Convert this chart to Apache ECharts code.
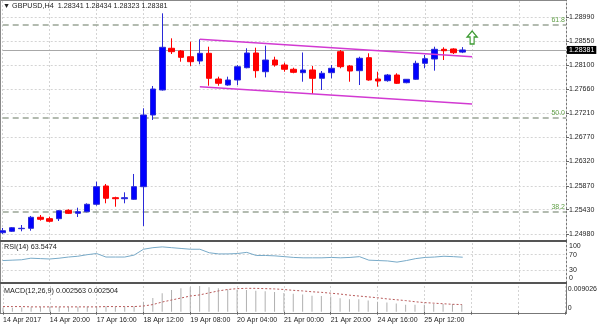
<!DOCTYPE html>
<html><head><meta charset="utf-8">
<script src="https://cdn.jsdelivr.net/npm/echarts@6/dist/echarts.min.js"></script>
<style>html,body{margin:0;padding:0;background:#fff}#c{width:600px;height:327px}</style>
</head><body><div id="c"></div>
<script>
// ---- data ----
const symbolTitle = '▼ GBPUSD,H4  1.28341 1.28434 1.28323 1.28381';
const rsiTitle = 'RSI(14) 63.5474';
const macdTitle = 'MACD(12,26,9) 0.002563 0.002504';
const timeLabels = ['14 Apr 2017','14 Apr 20:00','17 Apr 16:00','18 Apr 12:00','19 Apr 08:00','20 Apr 04:00','21 Apr 00:00','21 Apr 20:00','24 Apr 16:00','25 Apr 12:00'];
// open, close, low, high
const ohlc = [
[1.25004,1.25041,1.24980,1.25091],[1.25030,1.25096,1.25017,1.25109],[1.25078,1.25085,1.25030,1.25146],
[1.25085,1.25289,1.25041,1.25313],[1.25289,1.25252,1.25226,1.25331],[1.25263,1.25215,1.25196,1.25300],
[1.25263,1.25410,1.25220,1.25423],[1.25418,1.25362,1.25349,1.25436],[1.25362,1.25392,1.25294,1.25466],
[1.25392,1.25529,1.25381,1.25547],[1.25529,1.25854,1.25503,1.25946],[1.25867,1.25640,1.25547,1.25904],
[1.25651,1.25632,1.25484,1.25669],[1.25632,1.25651,1.25547,1.25750],[1.25621,1.25854,1.25608,1.26089],
[1.25854,1.27179,1.25128,1.27303],[1.27179,1.27659,1.27087,1.27715],[1.27641,1.28430,1.27630,1.29058],
[1.28412,1.28349,1.28306,1.28596],[1.28362,1.28245,1.28164,1.28380],[1.28256,1.28164,1.28085,1.28534],
[1.28177,1.28319,1.28116,1.28578],[1.28319,1.27857,1.27720,1.28441],[1.27844,1.27765,1.27720,1.27887],
[1.27733,1.27826,1.27720,1.27887],[1.27826,1.28072,1.27733,1.28103],[1.28053,1.28325,1.28042,1.28412],
[1.28325,1.27998,1.27868,1.28423],[1.27979,1.28195,1.27876,1.28460],[1.28195,1.28103,1.28072,1.28256],
[1.28103,1.28024,1.27979,1.28145],[1.28024,1.27968,1.27950,1.28053],[1.27961,1.28011,1.27794,1.28334],
[1.28011,1.27857,1.27567,1.28085],[1.27857,1.27950,1.27641,1.27992],[1.27961,1.28042,1.27857,1.28103],
[1.28349,1.28072,1.28042,1.28380],[1.28085,1.27992,1.27794,1.28103],[1.27998,1.28227,1.27733,1.28256],
[1.28238,1.27826,1.27813,1.28319],[1.27844,1.27807,1.27702,1.27979],[1.27813,1.27918,1.27794,1.27937],
[1.27918,1.27765,1.27752,1.27950],[1.27776,1.27839,1.27765,1.27844],[1.27839,1.28134,1.27826,1.28182],
[1.28134,1.28219,1.28042,1.28288],[1.28214,1.28393,1.27998,1.28441],[1.28393,1.28367,1.28195,1.28430],
[1.28399,1.28330,1.28306,1.28412],[1.28341,1.28381,1.28323,1.28434]
];
const rsi = [55,56,57,61,60,59,61,64,66,70,73,64,64,64,69,84,88,90,88,86,84,84,75,72,72,73,76,68,68,67,65,63,62,62,62,63,62,63,65,56,55,54,51,55,60,63,64,66,65,63.5474];
const macd = [0.0014,0.0014,0.0015,0.0016,0.0017,0.0017,0.0017,0.0017,0.0017,0.0018,0.0019,0.0019,0.0018,0.0018,0.0019,
0.0035,0.0048,0.0065,0.0076,0.0082,0.0086,0.009026,0.0086,0.0082,0.0079,0.0077,0.0076,0.0074,0.0072,0.0069,
0.0066,0.0063,0.0060,0.0056,0.0055,0.0053,0.0047,0.0044,0.0044,0.0039,0.0035,0.0032,0.0029,0.0024,0.0024,
0.0024,0.0027,0.0027,0.0027,0.002563];
const signal = [0.0018,0.0018,0.0018,0.0017,0.0017,0.0017,0.0017,0.0017,0.0017,0.0017,0.0017,0.0018,0.0018,0.0018,0.0018,
0.0020,0.0025,0.0034,0.0041,0.0048,0.0055,0.0059,0.0066,0.0073,0.0078,0.0081,0.0082,0.0082,0.0081,0.0080,
0.0078,0.0075,0.0073,0.0070,0.0068,0.0065,0.0062,0.0058,0.0055,0.0052,0.0049,0.0045,0.0042,0.0039,0.0035,
0.0032,0.0030,0.0028,0.0026,0.002504];
const priceTicks = [1.24980,1.25430,1.25870,1.26320,1.26770,1.27210,1.27660,1.28100,1.28550,1.28990];
const rsiTicks = [0,30,70,100];
const rsiLevels = [30,70];
const macdTicks = [0,0.009026];
const fibLevels = [1.28843,1.27136,1.25399];
const fibNames = ['61.8','50.0','38.2'];
const lastPrice = 1.28381;
const channelUpper = [[21,1.28578],[50,1.28256]];
const channelLower = [[21,1.27702],[50,1.27382]];
const arrowPoint = [50,1.28611];
const slotCount = 61;
const labelEvery = 5;

// ---- build ----
const categories = [];
for (let i = 0; i < slotCount; i++) {
  const k = i / labelEvery;
  categories.push(i % labelEvery === 0 && k < timeLabels.length ? timeLabels[k] : '');
}
const FONT = 'Liberation Sans';
const txt = '#222';
const gridColor = '#d4d4d4';
const L = 2.7, R = 34;

function xAx(idx, showLabel) {
  return {
    type: 'category', gridIndex: idx, data: categories, boundaryGap: false,
    axisLine: {show: false},
    axisTick: {show: showLabel, interval: labelEvery - 1, length: 3, lineStyle: {color: '#666'}},
    axisLabel: {show: showLabel, interval: labelEvery - 1, align: 'left', margin: 5,
      fontSize: 7, fontFamily: FONT, color: txt},
    splitLine: {show: true, interval: labelEvery - 1, lineStyle: {color: gridColor, type: [2, 2], width: 1}}
  };
}

const levelLines = fibLevels.map((v, i) => ({
  yAxis: v,
  lineStyle: {color: '#9aa596', type: [6, 4], width: 1.5},
  label: {show: true, formatter: fibNames[i], position: 'insideEndTop', distance: [1, 1],
    color: '#5f9e45', fontSize: 7, fontFamily: FONT}
}));
levelLines.push({
  yAxis: lastPrice,
  lineStyle: {color: '#a8a8a8', type: 'solid', width: 1},
  label: {show: true, position: 'end', distance: 1, formatter: lastPrice.toFixed(5),
    backgroundColor: '#000', color: '#fff', padding: [1, 2, 0, 2], fontSize: 7, fontFamily: FONT}
});

const option = {
  animation: false,
  backgroundColor: '#fff',
  title: [
    {text: symbolTitle, left: 3, top: 3, padding: 0, textStyle: {fontSize: 7.2, fontWeight: 'normal', fontFamily: FONT, color: txt}},
    {text: rsiTitle, left: 4, top: 244, padding: 0, textStyle: {fontSize: 7.2, fontWeight: 'normal', fontFamily: FONT, color: txt}},
    {text: macdTitle, left: 4, top: 288, padding: 0, textStyle: {fontSize: 7.2, fontWeight: 'normal', fontFamily: FONT, color: txt}}
  ],
  grid: [
    {left: L, right: R, top: 1, height: 238},
    {left: L, right: R, top: 243, height: 39},
    {left: L, right: R, top: 286, height: 25.7}
  ],
  xAxis: [xAx(0, false), xAx(1, false), xAx(2, true)],
  yAxis: [
    {type: 'value', gridIndex: 0, position: 'right', min: 1.248874, max: 1.292857,
      axisLine: {show: false},
      axisTick: {show: true, length: 3, customValues: priceTicks, lineStyle: {color: '#666'}},
      axisLabel: {customValues: priceTicks, margin: 3, fontSize: 7, fontFamily: FONT, color: txt,
        formatter: v => v.toFixed(5)},
      splitLine: {show: true, lineStyle: {color: gridColor, type: [2, 2]}}},
    {type: 'value', gridIndex: 1, position: 'right', min: 0, max: 100,
      axisLine: {show: false},
      axisTick: {show: false, customValues: rsiLevels},
      axisLabel: {customValues: rsiTicks, margin: 3, fontSize: 7, fontFamily: FONT, color: txt,
        verticalAlignMaxLabel: 'top', verticalAlignMinLabel: 'bottom'},
      splitLine: {show: true, lineStyle: {color: gridColor, type: [2, 2]}}},
    {type: 'value', gridIndex: 2, position: 'right', min: 0, max: 0.009026,
      axisLine: {show: false},
      axisTick: {show: false, customValues: macdTicks},
      axisLabel: {customValues: macdTicks, margin: 3, fontSize: 7, fontFamily: FONT, color: txt,
        verticalAlignMaxLabel: 'top', verticalAlignMinLabel: 'bottom',
        formatter: v => v === 0 ? '0' : v.toFixed(6)},
      splitLine: {show: false}}
  ],
  series: [
    {type: 'line', xAxisIndex: 0, yAxisIndex: 0, data: [], z: 1,
      markLine: {silent: true, precision: 5, symbol: ['none', 'none'], z: 1, data: levelLines}},
    {type: 'candlestick', xAxisIndex: 0, yAxisIndex: 0, data: ohlc, barWidth: 6, clip: false, z: 3,
      itemStyle: {color: '#0000ff', color0: '#ff0000', borderColor: '#2a2ad8', borderColor0: '#ff0000', borderWidth: 1},
      markPoint: {silent: true, data: [{coord: arrowPoint, symbol: 'path://M5,0 L10,6 L7,6 L7,13 L3,13 L3,6 L0,6 Z',
        symbolSize: [10, 13], itemStyle: {color: '#fff', borderColor: '#3c9a32', borderWidth: 1.3}, label: {show: false}}]}
    },
    {type: 'line', xAxisIndex: 0, yAxisIndex: 0, data: channelUpper, showSymbol: false, z: 4,
      lineStyle: {color: '#d23ad2', width: 1.5}},
    {type: 'line', xAxisIndex: 0, yAxisIndex: 0, data: channelLower, showSymbol: false, z: 4,
      lineStyle: {color: '#d23ad2', width: 1.5}},
    {type: 'line', xAxisIndex: 1, yAxisIndex: 1, data: rsi, showSymbol: false,
      lineStyle: {color: '#78aac8', width: 1}},
    {type: 'bar', xAxisIndex: 2, yAxisIndex: 2, data: macd, barWidth: 1,
      itemStyle: {color: '#b0b0b0'}},
    {type: 'line', xAxisIndex: 2, yAxisIndex: 2, data: signal, showSymbol: false,
      lineStyle: {color: '#b85a5a', width: 1, type: [2, 2]}}
  ],
  graphic: [
    {type: 'line', shape: {x1: 0, y1: 0.5, x2: 566, y2: 0.5}, style: {stroke: '#888', lineWidth: 1}},
    {type: 'line', shape: {x1: 0.5, y1: 0, x2: 0.5, y2: 313}, style: {stroke: '#888', lineWidth: 1}},
    {type: 'line', shape: {x1: 566.5, y1: 0, x2: 566.5, y2: 313.5}, style: {stroke: '#777', lineWidth: 1}},
    {type: 'line', shape: {x1: 0, y1: 241, x2: 567, y2: 241}, style: {stroke: '#555', lineWidth: 2}},
    {type: 'line', shape: {x1: 0, y1: 283, x2: 567, y2: 283}, style: {stroke: '#555', lineWidth: 2}},
    {type: 'line', shape: {x1: 0, y1: 313.5, x2: 567, y2: 313.5}, style: {stroke: '#777', lineWidth: 1}}
  ]
};
const chart = echarts.init(document.getElementById('c'), null, {renderer: 'canvas'});
chart.setOption(option);
</script></body></html>
